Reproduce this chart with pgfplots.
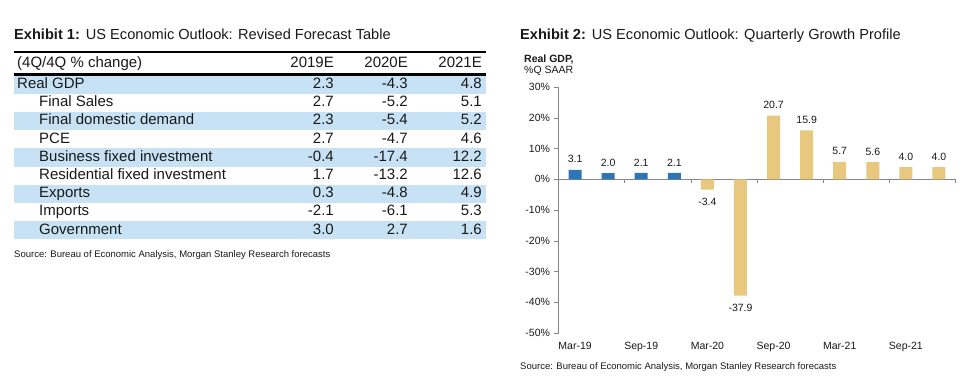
\documentclass[border=0pt]{standalone}
\usepackage{fontspec}
\setmainfont{Liberation Sans}
\usepackage{pgfplots}
\pgfplotsset{compat=1.18}
\definecolor{tblblue}{RGB}{199,226,245}
\definecolor{gdpblue}{RGB}{46,117,182}
\definecolor{gdptan}{RGB}{231,200,126}
\definecolor{axgray}{RGB}{134,134,134}
\definecolor{txt}{RGB}{25,25,25}
\newcommand{\tf}{\fontsize{14.6bp}{16bp}\selectfont}
\newcommand{\rf}{\fontsize{15bp}{17bp}\selectfont}
\newcommand{\cf}{\fontsize{10.5bp}{12bp}\selectfont}
\newcommand{\srcf}{\fontsize{9.5bp}{11bp}\selectfont}
\begin{document}
\begin{tikzpicture}[x=1bp,y=1bp]
\path[use as bounding box] (0,0) rectangle (973,384);
\begin{scope}[shift={(0,384)},y=-1bp]
  % ---- Exhibit 1: table ----
  \foreach \i in {0,2,4,6,8} \fill[tblblue] (13.5,{75.5+18.2*\i}) rectangle (485.5,{75.5+18.2*(\i+1)});
  \draw[line width=2.5bp] (13.5,52) -- (485.5,52);
  \draw[line width=2.5bp] (13.5,74.5) -- (485.5,74.5);
  \node[anchor=base west,inner sep=0,font=\tf,text=txt] at (14,39.5) {\textbf{Exhibit 1:}\hspace{6bp}US Economic Outlook: Revised Forecast Table};
  \node[anchor=base west,inner sep=0,font=\rf,text=txt] at (17,67.5) {(4Q/4Q \% change)};
  \node[anchor=base east,inner sep=0,font=\rf,text=txt] at (334,67.5) {2019E};
  \node[anchor=base east,inner sep=0,font=\rf,text=txt] at (408,67.5) {2020E};
  \node[anchor=base east,inner sep=0,font=\rf,text=txt] at (482,67.5) {2021E};
  \foreach \lab/\x/\a/\b/\c [count=\i from 0] in {
      Real GDP/17/2.3/-4.3/4.8,
      Final Sales/39/2.7/-5.2/5.1,
      Final domestic demand/39/2.3/-5.4/5.2,
      PCE/39/2.7/-4.7/4.6,
      Business fixed investment/39/-0.4/-17.4/12.2,
      Residential fixed investment/39/1.7/-13.2/12.6,
      Exports/39/0.3/-4.8/4.9,
      Imports/39/-2.1/-6.1/5.3,
      Government/39/3.0/2.7/1.6} {
    \node[anchor=base west,inner sep=0,font=\rf,text=txt] at (\x,{88.5+18.2*\i}) {\lab};
    \node[anchor=base east,inner sep=0,font=\rf,text=txt] at (334,{88.5+18.2*\i}) {\a};
    \node[anchor=base east,inner sep=0,font=\rf,text=txt] at (408,{88.5+18.2*\i}) {\b};
    \node[anchor=base east,inner sep=0,font=\rf,text=txt] at (482,{88.5+18.2*\i}) {\c};
  }
  \node[anchor=base west,inner sep=0,font=\srcf,text=txt] at (14,257) {Source: Bureau of Economic Analysis, Morgan Stanley Research forecasts};
  % ---- Exhibit 2 texts ----
  \node[anchor=base west,inner sep=0,font=\tf,text=txt] at (520,39.5) {\textbf{Exhibit 2:}\hspace{6bp}US Economic Outlook: Quarterly Growth Profile};
  \node[anchor=base west,inner sep=0,font=\cf\bfseries,text=txt] at (524,62) {Real GDP,};
  \node[anchor=base west,inner sep=0,font=\cf,text=txt] at (524,73.5) {\%Q SAAR};
  \node[anchor=base west,inner sep=0,font=\srcf,text=txt] at (520,369) {Source: Bureau of Economic Analysis, Morgan Stanley Research forecasts};
\end{scope}
\begin{axis}[
  at={(558.5bp,51.2bp)}, anchor=south west,
  scale only axis, width=397bp, height=245.6bp,
  xmin=-0.5, xmax=11.5, ymin=-50, ymax=30,
  axis x line*=bottom, axis y line*=left,
  x axis line style={draw=none},
  y axis line style={axgray,-},
  xtick={0,2,4,6,8,10},
  xticklabels={Mar-19,Sep-19,Mar-20,Sep-20,Mar-21,Sep-21},
  major x tick style={draw=none},
  ytick={-50,-40,-30,-20,-10,0,10,20,30},
  yticklabels={-50\%,-40\%,-30\%,-20\%,-10\%,0\%,10\%,20\%,30\%},
  ytick style={axgray},
  tick align=outside, major tick length=5bp,
  ticklabel style={font=\cf, text=txt},
  xticklabel style={anchor=base, yshift=-12bp, inner sep=0},
  ybar, bar width=13bp, bar shift=0pt,
  clip=false,
  nodes near coords={\pgfmathprintnumber[fixed,fixed zerofill,precision=1,assume math mode=true]{\pgfplotspointmeta}},
  every node near coord/.append style={font=\cf, text=txt, inner sep=0},
]
\draw[axgray] (axis cs:-0.5,0) -- (axis cs:11.5,0);
\draw[axgray] (axis cs:1.5,0) -- ([yshift=-4bp]axis cs:1.5,0);
\draw[axgray] (axis cs:3.5,0) -- ([yshift=-4bp]axis cs:3.5,0);
\draw[axgray] (axis cs:5.5,0) -- ([yshift=-4bp]axis cs:5.5,0);
\draw[axgray] (axis cs:7.5,0) -- ([yshift=-4bp]axis cs:7.5,0);
\draw[axgray] (axis cs:9.5,0) -- ([yshift=-4bp]axis cs:9.5,0);
\draw[axgray] (axis cs:11.5,0) -- ([yshift=-4bp]axis cs:11.5,0);
\addplot[fill=gdpblue, draw=none, every node near coord/.append style={anchor=south, yshift=6.5bp}]
  coordinates {(0,3.1) (1,2.0) (2,2.1) (3,2.1)};
\addplot[fill=gdptan, draw=none, every node near coord/.append style={anchor=north, yshift=-8bp}]
  coordinates {(4,-3.4) (5,-37.9)};
\addplot[fill=gdptan, draw=none, every node near coord/.append style={anchor=south, yshift=6.5bp}]
  coordinates {(6,20.7) (7,15.9) (8,5.7) (9,5.6) (10,4.0) (11,4.0)};
\end{axis}
\end{tikzpicture}
\end{document}
